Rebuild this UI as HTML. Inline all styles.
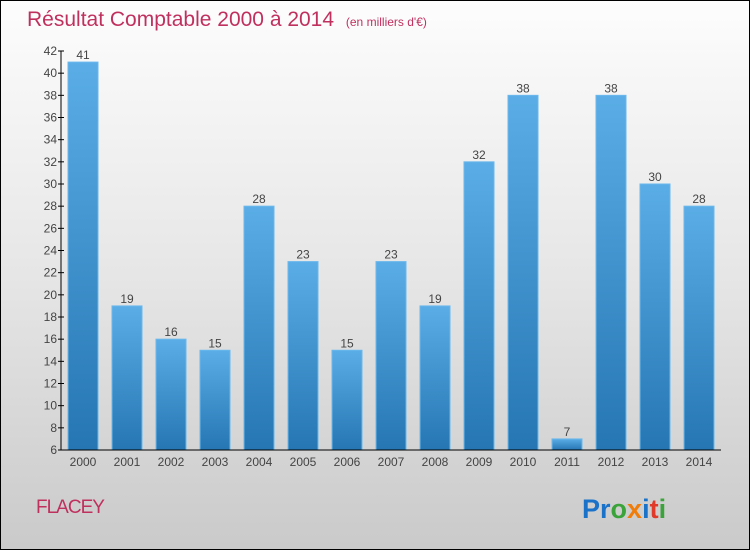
<!DOCTYPE html>
<html><head><meta charset="utf-8"><style>
body{margin:0}
#wrap{position:relative;width:748px;height:548px;border:1px solid #000;background:linear-gradient(#fdfdfd,#e6e6e6 50%,#cacaca);font-family:"Liberation Sans",sans-serif;overflow:hidden}
svg{position:absolute;left:-1px;top:-1px}
</style></head><body>
<div id="wrap">
<svg id="c" width="750" height="550">
<defs><linearGradient id="g" x1="0" y1="0" x2="0" y2="1"><stop offset="0" stop-color="#5aade6"/><stop offset="1" stop-color="#2576b3"/></linearGradient></defs>
<text x="27" y="26" font-size="21" fill="#c0305f">Résultat Comptable 2000 à 2014 <tspan font-size="12" dx="6">(en milliers d'€)</tspan></text>
<text x="36" y="513" font-size="19" fill="#c0305f" letter-spacing="-1">FLACEY</text>
<text x="582" y="518" font-size="27" font-weight="bold"><tspan fill="#1a73c8">Pr</tspan><tspan fill="#3aa33a">o</tspan><tspan fill="#f07d0a">x</tspan><tspan fill="#1a73c8">i</tspan><tspan fill="#e03a2a">t</tspan><tspan fill="#3aa33a">i</tspan></text>
</svg></div>
<script>
const categories=["2000","2001","2002","2003","2004","2005","2006","2007","2008","2009","2010","2011","2012","2013","2014"];
const values=[41,19,16,15,28,23,15,23,19,32,38,7,38,30,28];
const yTicks=[6,8,10,12,14,16,18,20,22,24,26,28,30,32,34,36,38,40,42];
const svg=document.getElementById('c'),NS='http://www.w3.org/2000/svg';
const x0=61,slot=44,yMin=6,yMax=42,yTop=51,yBot=450;
const y=v=>yBot-(v-yMin)/(yMax-yMin)*(yBot-yTop);
function mk(t,a,txt){const e=document.createElementNS(NS,t);for(const k in a)e.setAttribute(k,a[k]);if(txt!=null)e.textContent=txt;svg.appendChild(e);return e;}
values.forEach((v,i)=>{
const cx=x0+slot*i+slot/2;
const b=mk('rect',{x:cx-15,y:y(v),width:30,height:yBot-y(v),fill:'url(#g)',stroke:'#6bb8ec','stroke-width':1});


const l=mk('text',{x:cx,y:y(v)-3,'font-size':12,'text-anchor':'middle',fill:'#444'},String(v));


const c=mk('text',{x:cx,y:466,'font-size':12,'text-anchor':'middle',fill:'#444'},categories[i]);


});
yTicks.forEach(t=>{
mk('line',{x1:58,x2:64,y1:y(t),y2:y(t),stroke:'#000'});
const e=mk('text',{x:57,y:y(t)+4,'font-size':12,'text-anchor':'end',fill:'#444'},String(t));


});
const ya=mk('line',{x1:x0,x2:x0,y1:yTop,y2:yBot,stroke:'#000'});


const xa=mk('line',{x1:x0,x2:x0+slot*categories.length,y1:yBot,y2:yBot,stroke:'#000'});


</script>
</body></html>
